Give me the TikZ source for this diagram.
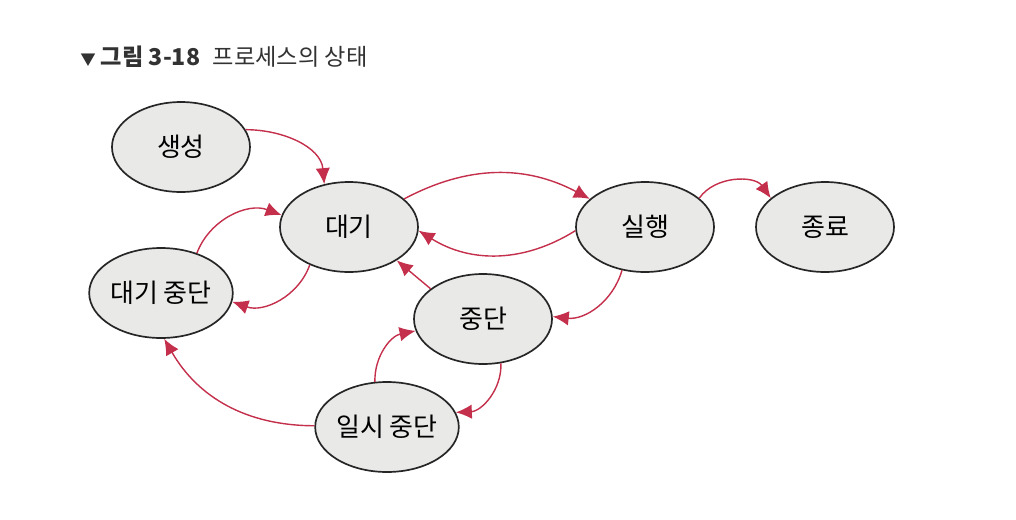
\documentclass[tikz,border=0pt]{standalone}
\usepackage{fontspec}
\setmainfont{Noto Sans CJK KR}
\usepackage{xcolor}
\usepackage{tikz}
\usetikzlibrary{positioning,arrows.meta,shapes.geometric}
\definecolor{stategray}{RGB}{233,234,232}
\definecolor{flowred}{RGB}{196,48,76}
\definecolor{titlegray}{RGB}{50,50,50}

\begin{document}
\begin{tikzpicture}[node distance=2cm,
    state/.style={ellipse, draw=black!85, line width=1.2pt, fill=stategray, minimum width=3.45cm, minimum height=2.25cm, inner sep=0pt, font=\fontsize{18.5}{22}\selectfont},
    flow/.style={-{Latex[length=0.4cm,width=0.36cm]}, draw=flowred, line width=1pt}]
    \useasboundingbox (-8.725,-7.3) rectangle (16.675,5.675);
    \node (title) [anchor=west, text=titlegray, font=\fontsize{16.5}{20}\selectfont, inner sep=0pt] at (-6.725,4.25) {{\fontsize{11}{11}\selectfont ▼} \textbf{그림 3-18}\hspace{0.55em}프로세스의 상태};

    \node (wait) [state] {대기};
    \node (create) [state, above of=wait, xshift=-4.2cm] {생성};
    \node (waitsusp) [state, below of=wait, xshift=-4.7cm, yshift=0.35cm] {대기 중단};
    \node (run) [state, right of=wait, xshift=5.4cm] {실행};
    \node (exit) [state, right of=run, xshift=2.5cm] {종료};
    \node (susp) [state, below of=wait, xshift=3.35cm, yshift=-0.3cm] {중단};
    \node (pause) [state, below of=susp, xshift=-2.4cm, yshift=-0.7cm] {일시 중단};

    \draw[flow] (create.15) to[out=0, in=95] (wait.120);
    \draw[flow] (wait.27) to[bend left=28] (run.153);
    \draw[flow] (run.183) to[bend left=32] (wait.-3);
    \draw[flow] (run.28) to[bend left=55] (exit.152);
    \draw[flow] (run.242) to[bend left=40] (susp.2);
    \draw[flow] (susp.150) -- (wait.-35);
    \draw[flow] (wait.224) to[bend left=45] (waitsusp.-7);
    \draw[flow] (waitsusp.48) to[bend left=45] (wait.170);
    \draw[flow] (susp.-68) to[bend left=45] (pause.12);
    \draw[flow] (pause.105) to[bend left=40] (susp.190);
    \draw[flow] (pause.179) to[bend left=30] (waitsusp.-86);
\end{tikzpicture}
\end{document}
